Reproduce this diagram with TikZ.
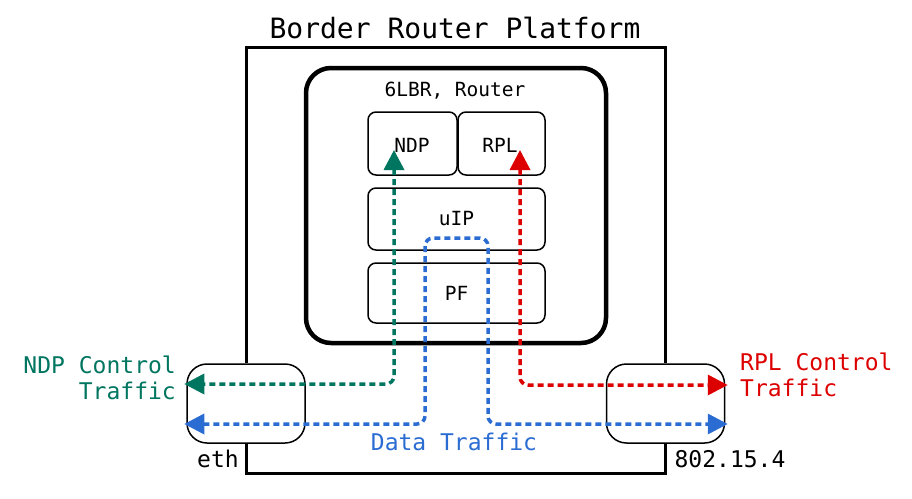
\documentclass[tikz,border=0pt]{standalone}
\usepackage{fontspec}
\setmainfont{DejaVu Sans Mono}
\usetikzlibrary{arrows.meta,calc}
\definecolor{ndpgreen}{RGB}{0,117,96}
\definecolor{rplred}{RGB}{221,0,0}
\definecolor{datablue}{RGB}{42,108,210}
\begin{document}
\begin{tikzpicture}[x=1pt,y=-1pt,
  inner/.style={draw, line width=1.5pt, rounded corners=8pt, inner sep=0pt,
    font=\fontsize{19.5}{21}\selectfont},
  port/.style={draw, line width=1.5pt, rounded corners=20pt, minimum width=118pt, minimum height=79pt, inner sep=0pt},
  platform/.style={line width=3pt},
  flow/.style={line width=3.5pt, dash pattern=on 6pt off 4pt, rounded corners=8pt,
    {Triangle[length=20pt,width=20pt]}-{Triangle[length=20pt,width=20pt]}},
  lbl/.style={font=\fontsize{23}{26}\selectfont, inner sep=0pt}
]
\useasboundingbox (0,0) rectangle (912,498);

% ports
\node[port] (eth) at (246,403.5) {};
\node[port] (wpan) at (665.5,403.5) {};

% platform frame
\coordinate (ptop) at (0,47);
\coordinate (pbot) at (0,473);
\draw[platform] (eth.north) -- (eth.north |- ptop) -| (wpan.north);
\draw[platform] (eth.south) -- (eth.south |- pbot) -| (wpan.south);
\node[font=\fontsize{28}{30}\selectfont, inner sep=0pt] (title) at (455,28) {Border Router Platform};

% router
\node[draw, line width=4.5pt, rounded corners=25pt, minimum width=300pt, minimum height=275pt] (router) at (456,205.5) {};
\node[font=\fontsize{19.5}{21}\selectfont, inner sep=0pt] (rlabel) at (455,91) {6LBR, Router};
\node[inner, minimum width=89pt, minimum height=63pt] (ndp) at (412.5,143.5) {};
\node[inner, minimum width=87pt, minimum height=63pt] (rpl) at (501.5,143.5) {};
\node[font=\fontsize{19.5}{21}\selectfont, inner sep=0pt] (ndptext) at (412,145) {NDP};
\node[font=\fontsize{19.5}{21}\selectfont, inner sep=0pt] (rpltext) at (500,145) {RPL};
\node[inner, minimum width=177pt, minimum height=62pt] (uip) at (456.5,219) {uIP};
\node[inner, minimum width=177pt, minimum height=60pt] (pf) at (456.5,293) {PF};

% flows
\coordinate (ndpin) at (394,150);
\coordinate (rplin) at (520,150);
\coordinate (d1) at (425,238);
\coordinate (d2) at (488,424);
\draw[flow, ndpgreen] (ndpin) |- ($(eth.west)+(-2,-19.5)$);
\draw[flow, rplred] (rplin) |- ($(wpan.east)+(2.5,-18.5)$);
\draw[flow, datablue] ($(eth.west)+(-2,20.5)$) -| (d1) -| (d2) -- ($(wpan.east)+(2.5,20.5)$);

% labels
\node[lbl, text=ndpgreen, align=right, anchor=east] (ndplbl) at (176,378) {NDP Control\\Traffic};
\node[lbl, text=rplred, align=left, anchor=west] (rpllbl) at (740,375) {RPL Control\\Traffic};
\node[lbl, text=datablue] (datalbl) at (454,442) {Data Traffic};
\node[lbl] (ethlbl) at (218,459) {eth};
\node[lbl] (wpanlbl) at (730,459) {802.15.4};
\end{tikzpicture}
\end{document}
